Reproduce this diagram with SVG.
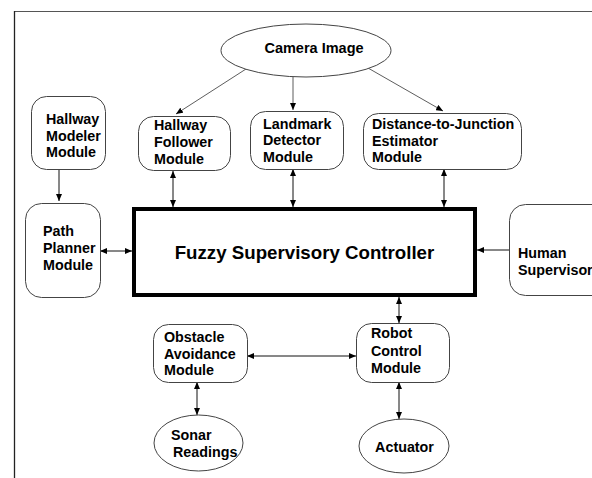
<svg xmlns="http://www.w3.org/2000/svg" width="592" height="478" viewBox="0 0 592 478">
<defs>
<marker id="ah" markerUnits="userSpaceOnUse" markerWidth="8" markerHeight="6" refX="7" refY="3" orient="auto-start-reverse">
<path d="M0,0 L7,3 L0,6 z" fill="#000"/>
</marker>
<style>
text{font-family:"Liberation Sans",Arial,sans-serif;font-weight:bold;font-size:14.3px;fill:#000}
.box{fill:#fff;stroke:#444;stroke-width:1}
.c{fill:none;stroke:#111;stroke-width:1}
.cam{fill:none;stroke:#333;stroke-width:0.8}
.ctr{text-anchor:middle}
</style>
</defs>
<rect x="0" y="0" width="592" height="478" fill="#fff"/>
<g id="frame">
<line x1="14" y1="11.5" x2="592" y2="11.5" stroke="#555" stroke-width="1"/>
<line x1="14.5" y1="11" x2="14.5" y2="478" stroke="#222" stroke-width="1.3"/>
</g>
<g id="connectors">
<line class="cam" x1="246" y1="69" x2="176" y2="114" marker-end="url(#ah)"/>
<line class="cam" x1="293" y1="77" x2="293" y2="110" marker-end="url(#ah)"/>
<line class="cam" x1="368" y1="68" x2="443" y2="111" marker-end="url(#ah)"/>
<line class="c" x1="59" y1="169" x2="59" y2="201" marker-end="url(#ah)"/>
<line class="c" x1="173" y1="171" x2="173" y2="207" marker-start="url(#ah)" marker-end="url(#ah)"/>
<line class="c" x1="293" y1="169" x2="293" y2="207" marker-start="url(#ah)" marker-end="url(#ah)"/>
<line class="c" x1="444" y1="169" x2="444" y2="207" marker-start="url(#ah)" marker-end="url(#ah)"/>
<line class="c" x1="100" y1="251" x2="132" y2="251" marker-start="url(#ah)" marker-end="url(#ah)"/>
<line class="c" x1="509" y1="250" x2="477" y2="250" marker-end="url(#ah)"/>
<line class="c" x1="399" y1="297" x2="399" y2="323" marker-start="url(#ah)" marker-end="url(#ah)"/>
<line class="c" x1="247" y1="356" x2="356" y2="356" marker-start="url(#ah)" marker-end="url(#ah)"/>
<line class="c" x1="197" y1="382" x2="197" y2="415" marker-start="url(#ah)" marker-end="url(#ah)"/>
<line class="c" x1="399" y1="382" x2="399" y2="419" marker-start="url(#ah)" marker-end="url(#ah)"/>
</g>
<g id="camera">
<ellipse class="box" cx="306" cy="50.5" rx="85" ry="26.5"/>
<text class="ctr" x="314" y="53" style="font-size:14.5px">Camera Image</text>
</g>
<g id="hallway-modeler">
<rect class="box" x="31.5" y="96.5" width="74" height="73" rx="15"/>
<text x="46" y="124">Hallway</text>
<text x="46" y="140.5">Modeler</text>
<text x="46" y="157">Module</text>
</g>
<g id="hallway-follower">
<rect class="box" x="138.5" y="116.5" width="92" height="54" rx="15"/>
<text x="154" y="129.5">Hallway</text>
<text x="154" y="146.5">Follower</text>
<text x="154" y="163.5">Module</text>
</g>
<g id="landmark">
<rect class="box" x="250.5" y="111.5" width="93" height="58" rx="15"/>
<text x="263" y="128.5">Landmark</text>
<text x="263" y="145">Detector</text>
<text x="263" y="162">Module</text>
</g>
<g id="distance">
<rect class="box" x="363.5" y="113.5" width="158" height="56" rx="15"/>
<text x="372" y="129">Distance-to-Junction</text>
<text x="372" y="145.5">Estimator</text>
<text x="372" y="162">Module</text>
</g>
<g id="path-planner">
<rect class="box" x="25.5" y="203.5" width="75" height="94" rx="16"/>
<text x="43" y="236">Path</text>
<text x="43" y="253">Planner</text>
<text x="43" y="270">Module</text>
</g>
<g id="fuzzy">
<rect x="134" y="209" width="341" height="86" fill="#fff" stroke="#000" stroke-width="4"/>
<text class="ctr" x="304.5" y="259" style="font-size:18.7px">Fuzzy Supervisory Controller</text>
</g>
<g id="human">
<rect class="box" x="509.5" y="204.5" width="100" height="91" rx="16"/>
<text x="518" y="258">Human</text>
<text x="518" y="275">Supervisor</text>
</g>
<g id="obstacle">
<rect class="box" x="153.5" y="324.5" width="94" height="58" rx="15"/>
<text x="164" y="342">Obstacle</text>
<text x="164" y="358.5">Avoidance</text>
<text x="164" y="375">Module</text>
</g>
<g id="robot">
<rect class="box" x="356.5" y="323.5" width="93" height="59" rx="15"/>
<text x="371" y="338">Robot</text>
<text x="371" y="356">Control</text>
<text x="371" y="373">Module</text>
</g>
<g id="sonar">
<ellipse class="box" cx="198.5" cy="443" rx="44.5" ry="28"/>
<text x="171" y="440">Sonar</text>
<text x="173" y="457">Readings</text>
</g>
<g id="actuator">
<ellipse class="box" cx="404" cy="446" rx="45" ry="27"/>
<text class="ctr" x="404.5" y="452">Actuator</text>
</g>
</svg>
